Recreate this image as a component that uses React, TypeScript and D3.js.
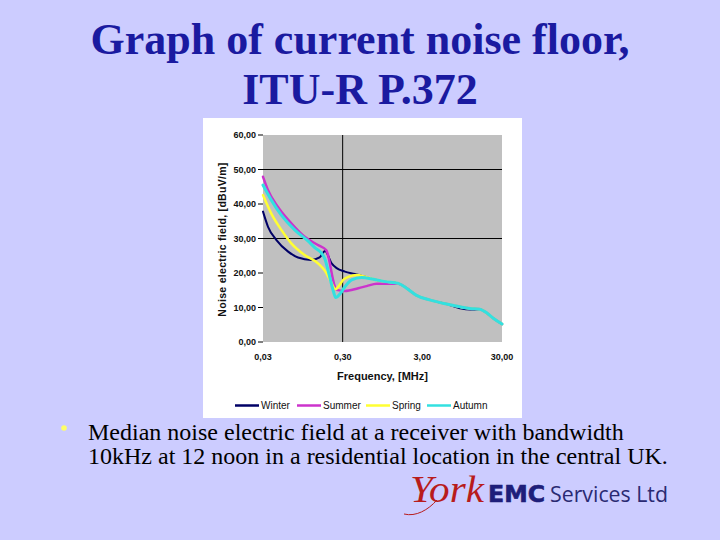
import React from "react";
import * as d3 from "d3";

// ---------- data ----------
const SERIES_NAMES = ["Winter", "Summer", "Spring", "Autumn"];
const SERIES_COLORS = ["#000066", "#CC33CC", "#FFFF33", "#33E0E0"];

const winterFreq = [0.03, 0.0347, 0.044, 0.062, 0.0825, 0.121, 0.154, 0.18, 0.218, 0.252, 0.32, 0.428, 0.57, 0.73, 1.02, 1.5, 1.9, 2.5, 3.7, 6.05, 8.9, 11.9, 15.8, 18.3, 23.3, 30];
const winterVal = [37.8, 33.4, 29.6, 26.2, 24.5, 23.8, 24.5, 26.4, 22.8, 21.4, 20.4, 19.7, 18.9, 18.2, 17.5, 17.0, 15.6, 13.6, 12.2, 11.0, 9.8, 9.4, 9.5, 8.8, 6.9, 5.2];

const summerFreq = [0.03, 0.0347, 0.046, 0.068, 0.1, 0.147, 0.187, 0.24, 0.252, 0.32, 0.471, 0.6, 0.8, 1.02, 1.5, 1.9, 2.5, 3.7, 6.05, 8.9, 11.9, 15.8, 18.3, 23.3, 30];
const summerVal = [47.9, 44.0, 39.2, 34.4, 30.5, 28.1, 26.6, 16.0, 15.1, 14.8, 15.6, 16.2, 16.9, 16.9, 16.9, 15.6, 13.6, 12.2, 11.0, 10.2, 9.7, 9.5, 8.8, 6.9, 5.2];

const springFreq = [0.03, 0.038, 0.051, 0.068, 0.1, 0.147, 0.18, 0.208, 0.245, 0.264, 0.305, 0.353, 0.45, 0.57, 0.73, 1.02, 1.5, 1.9, 2.5, 3.7, 6.05, 8.9, 11.9, 15.8, 18.3, 23.3, 30];
const springVal = [42.6, 37.3, 32.5, 28.6, 25.2, 22.8, 20.6, 18.0, 15.3, 16.0, 18.0, 18.9, 19.4, 18.9, 18.2, 17.5, 17.0, 15.6, 13.6, 12.2, 11.0, 10.2, 9.7, 9.5, 8.8, 6.9, 5.2];

const autumnFreq = [0.03, 0.038, 0.051, 0.075, 0.11, 0.135, 0.162, 0.18, 0.198, 0.229, 0.245, 0.277, 0.32, 0.389, 0.519, 0.73, 1.02, 1.5, 1.9, 2.5, 3.7, 6.05, 8.9, 11.9, 15.8, 18.3, 23.3, 30];
const autumnVal = [45.5, 41.2, 36.8, 32.5, 29.3, 27.3, 25.8, 24.0, 20.5, 14.8, 12.9, 13.9, 16.0, 18.0, 18.7, 18.2, 17.5, 17.0, 15.6, 13.6, 12.2, 11.0, 10.2, 9.7, 9.5, 8.8, 6.9, 5.2];

const X_TICKS = [0.03, 0.3, 3, 30];
const X_TICK_LABELS = ["0,03", "0,30", "3,00", "30,00"];
const Y_TICKS = [0, 10, 20, 30, 40, 50, 60];
const Y_TICK_LABELS = ["0,00", "10,00", "20,00", "30,00", "40,00", "50,00", "60,00"];
const GRID_Y = [30, 50];
const GRID_X = [0.3];

const TITLE_LINES = ["Graph of current noise floor,", "ITU-R P.372"];
const BULLET_LINES = [
  "Median noise electric field at a receiver with bandwidth",
  "10kHz at 12 noon in a residential location in the central UK.",
];

const LEGEND_X = [235, 297, 366, 427];

export default function App() {
  const x = d3.scaleLog().domain([0.03, 30]).range([263, 502]);
  const y = d3.scaleLinear().domain([0, 60]).range([342, 135]);

  const freqs = [winterFreq, summerFreq, springFreq, autumnFreq];
  const vals = [winterVal, summerVal, springVal, autumnVal];
  const widths = [2, 2.5, 2.5, 3];

  const line = d3
    .line<[number, number]>()
    .x((d) => x(d[0]))
    .y((d) => y(d[1]))
    .curve(d3.curveMonotoneX);

  const axisFont = "'Liberation Sans', Arial, sans-serif";

  return (
    <svg
      width={720}
      height={540}
      style={{ position: "absolute", left: 0, top: 0, display: "block" }}
    >
      <rect x={0} y={0} width={720} height={540} fill="#CCCCFF" />

      {/* Title */}
      {TITLE_LINES.map((t, i) => (
        <text
          key={t}
          x={360}
          y={54 + i * 50}
          textAnchor="middle"
          fontFamily="'Liberation Serif', 'Times New Roman', serif"
          fontWeight="bold"
          fontSize={44}
          fill="#1A1AA0"
        >
          {t}
        </text>
      ))}

      {/* Chart box */}
      <rect x={203} y={118} width={319} height={300} fill="#FFFFFF" />
      <rect
        x={x(0.03)}
        y={y(60)}
        width={x(30) - x(0.03)}
        height={y(0) - y(60)}
        fill="#C0C0C0"
      />

      {GRID_Y.map((v) => (
        <line key={"gy" + v} x1={x(0.03)} x2={x(30)} y1={y(v)} y2={y(v)} stroke="#000" strokeWidth={1} />
      ))}
      {GRID_X.map((v) => (
        <line key={"gx" + v} x1={x(v)} x2={x(v)} y1={y(60)} y2={y(0)} stroke="#000" strokeWidth={1} />
      ))}

      {/* Y ticks */}
      {Y_TICKS.map((v, i) => (
        <g key={"yt" + v}>
          <line x1={x(0.03) - 5} x2={x(0.03)} y1={y(v)} y2={y(v)} stroke="#000" strokeWidth={1} />
          <text
            x={x(0.03) - 7}
            y={y(v)}
            dy="0.35em"
            textAnchor="end"
            fontFamily={axisFont}
            fontWeight="bold"
            fontSize={9}
            fill="#111"
          >
            {Y_TICK_LABELS[i]}
          </text>
        </g>
      ))}

      {/* X ticks */}
      {X_TICKS.map((v, i) => (
        <text
          key={"xt" + v}
          x={x(v)}
          y={y(0) + 15}
          dy="0.35em"
          textAnchor="middle"
          fontFamily={axisFont}
          fontWeight="bold"
          fontSize={9}
          fill="#111"
        >
          {X_TICK_LABELS[i]}
        </text>
      ))}

      {/* Axis titles */}
      <text
        x={(x(0.03) + x(30)) / 2}
        y={380}
        textAnchor="middle"
        fontFamily={axisFont}
        fontWeight="bold"
        fontSize={11}
        fill="#111"
      >
        Frequency, [MHz]
      </text>
      <text
        transform={`translate(226, ${(y(0) + y(60)) / 2 + 1}) rotate(-90)`}
        textAnchor="middle"
        fontFamily={axisFont}
        fontWeight="bold"
        fontSize={10.5}
        letterSpacing={0.3}
        fill="#111"
      >
        Noise electric field, [dBuV/m]
      </text>

      {/* Series */}
      <g>
        {SERIES_NAMES.map((name, i) => (
          <path
            key={name}
            d={line(freqs[i].map((f, j) => [f, vals[i][j]] as [number, number])) || ""}
            fill="none"
            stroke={SERIES_COLORS[i]}
            strokeWidth={widths[i]}
            strokeLinejoin="round"
            strokeLinecap="round"
          />
        ))}
      </g>

      {/* Legend */}
      {SERIES_NAMES.map((name, i) => (
        <g key={"lg" + name}>
          <line
            x1={LEGEND_X[i]}
            x2={LEGEND_X[i] + 24}
            y1={405.5}
            y2={405.5}
            stroke={SERIES_COLORS[i]}
            strokeWidth={2.5}
          />
          <text
            x={LEGEND_X[i] + 26}
            y={405.5}
            dy="0.35em"
            fontFamily={axisFont}
            fontSize={10}
            fill="#111"
          >
            {name}
          </text>
        </g>
      ))}

      {/* Bullet */}
      <circle cx={64} cy={428} r={2.8} fill="#FFFF66" />
      {BULLET_LINES.map((t, i) => (
        <text
          key={"b" + i}
          x={88}
          y={440 + i * 24}
          fontFamily="'Liberation Serif', 'Times New Roman', serif"
          fontSize={24}
          fill="#000"
        >
          {t}
        </text>
      ))}

      {/* Logo */}
      <path d="M404,514 C416,517 428,510 437,500" fill="none" stroke="#B81C1C" strokeWidth={1} />
      <text
        x={410}
        y={502}
        fontFamily="'Liberation Serif', 'Times New Roman', serif"
        fontStyle="italic"
        fontSize={38}
        fill="#B81C1C"
        textLength={74}
        lengthAdjust="spacingAndGlyphs"
      >
        York
      </text>
      <text
        x={488}
        y={502}
        fontFamily="'DejaVu Sans', 'Liberation Sans', sans-serif"
        fontWeight={900}
        fontSize={23}
        fill="#1E1E7A"
        stroke="#1E1E7A"
        strokeWidth={0.6}
        textLength={57}
        lengthAdjust="spacingAndGlyphs"
      >
        EMC
      </text>
      <text
        x={550}
        y={502}
        fontFamily="'Open Sans', 'Noto Sans', sans-serif"
        fontSize={21}
        fill="#2A2A72"
        textLength={118}
        lengthAdjust="spacingAndGlyphs"
      >
        Services Ltd
      </text>
    </svg>
  );
}
